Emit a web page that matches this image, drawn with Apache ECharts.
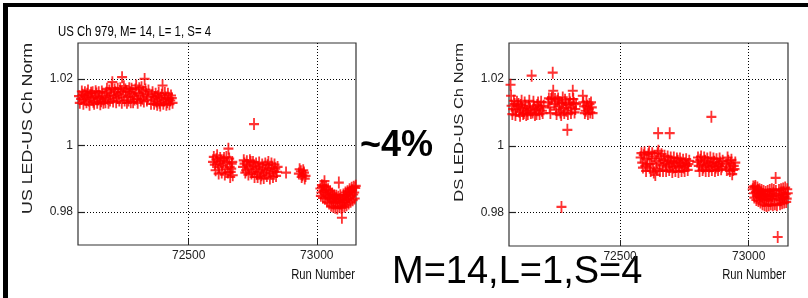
<!DOCTYPE html>
<html><head><meta charset="utf-8">
<script src="https://cdn.jsdelivr.net/npm/echarts@6/dist/echarts.min.js"></script>
<style>html,body{margin:0;padding:0;background:#fff}#c{width:808px;height:298px}</style>
</head><body><div id="c"></div>
<script>
const xTicks = [72500, 73000];
const yTicks = [0.98, 1, 1.02];
const xTitle = 'Run Number';
const usTitle = 'US LED-US Ch Norm';
const dsTitle = 'DS LED-US Ch Norm';
const plotTitle = 'US Ch 979, M= 14, L= 1, S= 4';
const noteDiff = '~4%';
const noteId = 'M=14,L=1,S=4';

const usRun = [72072,72080,72086,72092,72098,72104,72110,72116,72122,72128,72134,72140,72146,72152,72158,72164,
 72172,72178,72184,72190,72196,72202,72208,72214,72220,72226,
 72236,72240,72244,72250,72256,72262,72268,72274,72280,72286,72292,72298,72304,72310,72316,72322,72328,72334,72340,
 72356,72362,72368,72374,72380,72386,72392,72398,72404,72410,72416,72422,72428,72434,
 72595,72602,72608,72614,72620,72626,72632,72638,72644,72650,72655,72660,72664,72668,72672,
 72712,72718,72724,72730,72736,72742,72748,72754,72755,72760,72766,72772,72778,72784,72790,72796,72802,72808,72814,72820,72826,72832,72838,72844,
 72880,72930,72938,72944,72950,72956,
 73014,73018,73022,73026,73030,73034,73038,73042,73046,73050,73054,73058,73062,73066,73070,73074,73078,73082,73086,73090,73094,73098,73102,73106,73110,73114,73118,73122,73126,73130,73134,73138,73142,73146,73150,
 72075,72083,72089,72095,72101,72107,72113,72119,72125,72131,72137,72143,72149,72155,72161,72167,
 72175,72181,72187,72193,72199,72205,72211,72217,72223,72229,
 72233,72239,72247,72253,72259,72265,72271,72277,72283,72289,72295,72301,72307,72313,72319,72325,72331,72337,72343,
 72353,72359,72365,72371,72377,72383,72389,72395,72401,72407,72413,72419,72425,72431,72437,
 72598,72605,72611,72617,72623,72629,72635,72641,72647,72653,72658,72662,72666,72670,
 72715,72721,72727,72733,72739,72745,72751,72757,72763,72769,72775,72781,72787,72793,72799,72805,72811,72817,72823,72829,72835,72841,72847,
 72933,72941,72947,72953,
 73016,73020,73024,73028,73032,73036,73040,73044,73048,73052,73056,73060,73064,73068,73072,73076,73080,73084,73088,73092,73096,73100,73104,73108,73112,73116,73120,73124,73128,73132,73136,73140,73144,73148,73152];
const usVal = [1.0148,1.0140,1.0152,1.0138,1.0146,1.0155,1.0135,1.0150,1.0142,1.0131,1.0147,1.0156,1.0139,1.0144,1.0133,1.0150,
 1.0146,1.0158,1.0140,1.0165,1.0152,1.0190,1.0148,1.0160,1.0143,1.0155,
 1.0160,1.0205,1.0150,1.0135,1.0163,1.0145,1.0172,1.0130,1.0155,1.0148,1.0168,1.0140,1.0158,1.0150,1.0175,1.0162,1.0200,1.0155,1.0145,
 1.0150,1.0138,1.0145,1.0132,1.0148,1.0128,1.0142,1.0180,1.0136,1.0144,1.0130,1.0140,1.0135,1.0142,
 0.9950,0.9942,0.9958,0.9945,0.9935,0.9952,0.9940,0.9962,0.9928,0.9948,0.9990,0.9935,0.9920,0.9945,0.9910,
 0.9935,0.9945,0.9925,0.9940,0.9930,0.9950,0.9920,0.9938,1.0064,0.9928,0.9915,0.9935,0.9922,0.9910,0.9930,0.9918,0.9925,0.9940,0.9928,0.9915,0.9932,0.9922,0.9930,0.9920,
 0.9918,0.9915,0.9922,0.9910,0.9918,0.9908,
 0.9870,0.9858,0.9875,0.9862,0.9892,0.9852,0.9865,0.9845,0.9858,0.9840,0.9852,0.9835,0.9848,0.9830,0.9842,0.9828,0.9840,0.9832,0.9888,0.9838,0.9826,0.9782,0.9835,0.9845,0.9830,0.9850,0.9838,0.9855,0.9842,0.9860,0.9848,0.9865,0.9852,0.9858,0.9872,
 1.0128,1.0162,1.0125,1.0160,1.0130,1.0165,1.0122,1.0158,1.0160,1.0125,1.0163,1.0128,1.0160,1.0124,1.0162,1.0128,
 1.0130,1.0170,1.0128,1.0135,1.0172,1.0132,1.0168,1.0130,1.0170,1.0135,
 1.0172,1.0128,1.0178,1.0168,1.0128,1.0135,1.0160,1.0170,1.0130,1.0138,1.0180,1.0128,1.0172,1.0135,1.0140,1.0132,1.0168,1.0135,1.0165,
 1.0125,1.0160,1.0125,1.0155,1.0122,1.0158,1.0120,1.0152,1.0125,1.0158,1.0122,1.0155,1.0124,1.0150,1.0128,
 0.9965,0.9925,0.9970,0.9915,0.9962,0.9918,0.9955,0.9912,0.9965,0.9918,0.9960,0.9905,0.9930,0.9950,
 0.9955,0.9918,0.9952,0.9912,0.9955,0.9915,0.9950,0.9905,0.9945,0.9905,0.9948,0.9900,0.9942,0.9902,0.9945,0.9908,0.9950,0.9900,0.9945,0.9905,0.9942,0.9908,0.9935,
 0.9928,0.9905,0.9925,0.9900,
 0.9848,0.9880,0.9842,0.9878,0.9840,0.9875,0.9830,0.9868,0.9825,0.9862,0.9818,0.9855,0.9815,0.9850,0.9812,0.9848,0.9810,0.9845,0.9815,0.9850,0.9812,0.9818,0.9852,0.9815,0.9858,0.9820,0.9862,0.9825,0.9868,0.9830,0.9872,0.9835,0.9875,0.9840,0.9878];

const dsRun = [72074,72076,72078,72084,72090,72096,72102,72108,72114,72120,72126,72132,72138,72144,72150,72156,72160,72166,72172,72178,72184,72190,72196,
 72220,72226,72232,72238,72240,72244,72250,72256,72262,72268,72272,72274,72280,72286,72292,72295,72300,72306,72312,72316,72320,72326,
 72355,72360,72366,72372,72378,72384,72390,
 72580,72586,72592,72598,72604,72610,72616,72622,72628,72634,72637,72640,72646,72648,72652,72658,72664,72670,72676,72682,72688,72693,72694,72700,72706,72712,72718,72724,72730,72736,72742,72748,72754,72760,72766,
 72800,72806,72812,72818,72824,72830,72836,72842,72848,72854,72855,72860,72866,72872,72878,72884,72890,72896,
 72912,72918,72924,72930,72936,72942,72948,
 73016,73020,73024,73028,73032,73036,73040,73044,73048,73052,73056,73060,73064,73068,73072,73076,73080,73084,73088,73092,73096,73100,73105,73108,73113,73116,73120,73124,73128,73132,73136,73140,73144,73148,73152,
 72081,72087,72093,72099,72105,72111,72117,72123,72129,72135,72141,72147,72153,72163,72169,72175,72181,72187,72193,72199,72203,
 72223,72229,72235,72247,72253,72259,72265,72271,72277,72283,72289,72297,72303,72309,72318,72323,72329,
 72357,72363,72369,72375,72381,72387,72393,
 72583,72589,72595,72601,72607,72613,72619,72625,72631,72643,72649,72655,72661,72667,72673,72679,72685,72691,72697,72703,72709,72715,72721,72727,72733,72739,72745,72751,72757,72763,72769,
 72803,72809,72815,72821,72827,72833,72839,72845,72851,72857,72863,72869,72875,72881,72887,72893,72899,
 72915,72921,72927,72933,72939,72945,
 73018,73022,73026,73030,73034,73038,73042,73046,73050,73054,73058,73062,73066,73070,73074,73078,73082,73086,73090,73094,73098,73102,73106,73110,73118,73122,73126,73130,73134,73138,73142,73146,73150];
const dsVal = [1.0183,1.0150,1.0120,1.0110,1.0125,1.0108,1.0118,1.0102,1.0122,1.0112,1.0098,1.0115,1.0105,1.0120,1.0110,1.0210,1.0100,1.0116,1.0108,1.0122,1.0112,1.0118,1.0105,
 1.0130,1.0115,1.0140,1.0219,1.0165,1.0125,1.0108,1.0135,1.0118,1.0100,0.9817,1.0128,1.0112,1.0138,1.0105,1.0048,1.0122,1.0130,1.0115,1.0165,1.0128,1.0110,
 1.0150,1.0118,1.0105,1.0120,1.0110,1.0100,1.0115,
 0.9965,0.9950,0.9972,0.9940,0.9960,0.9975,0.9945,0.9962,0.9935,0.9968,0.9913,0.9955,0.9978,1.0038,0.9948,0.9962,0.9942,0.9958,0.9948,0.9938,0.9955,1.0038,0.9945,0.9952,0.9935,0.9948,0.9940,0.9955,0.9938,0.9950,0.9942,0.9935,0.9948,0.9940,0.9945,
 0.9952,0.9940,0.9958,0.9945,0.9935,0.9955,0.9942,0.9950,0.9938,0.9948,1.0087,0.9940,0.9952,0.9935,0.9945,0.9940,0.9950,0.9938,
 0.9945,0.9965,0.9935,0.9948,0.9915,0.9940,0.9950,
 0.9870,0.9858,0.9875,0.9862,0.9850,0.9868,0.9855,0.9845,0.9860,0.9848,0.9855,0.9842,0.9852,0.9840,0.9850,0.9838,0.9848,0.9855,0.9842,0.9850,0.9858,0.9845,0.9904,0.9852,0.9727,0.9840,0.9850,0.9838,0.9855,0.9845,0.9860,0.9848,0.9855,0.9842,0.9858,
 1.0095,1.0135,1.0092,1.0132,1.0125,1.0090,1.0135,1.0095,1.0130,1.0092,1.0095,1.0135,1.0098,1.0132,1.0092,1.0095,1.0130,1.0095,1.0132,1.0098,1.0120,
 1.0142,1.0098,1.0145,1.0140,1.0095,1.0142,1.0130,1.0092,1.0145,1.0098,1.0125,1.0095,1.0140,1.0098,1.0140,1.0100,1.0125,
 1.0130,1.0098,1.0132,1.0095,1.0125,1.0130,1.0098,
 0.9978,0.9935,0.9980,0.9925,0.9945,0.9982,0.9925,0.9978,0.9920,0.9930,0.9985,0.9925,0.9975,0.9925,0.9970,0.9925,0.9968,0.9928,0.9965,0.9922,0.9965,0.9925,0.9962,0.9922,0.9962,0.9925,0.9958,0.9925,0.9960,0.9928,0.9955,
 0.9965,0.9925,0.9968,0.9928,0.9965,0.9925,0.9962,0.9925,0.9965,0.9928,0.9962,0.9925,0.9960,0.9928,0.9962,0.9930,0.9955,
 0.9928,0.9955,0.9925,0.9958,0.9928,0.9930,
 0.9878,0.9845,0.9880,0.9838,0.9875,0.9835,0.9870,0.9830,0.9868,0.9825,0.9865,0.9822,0.9862,0.9820,0.9865,0.9822,0.9868,0.9825,0.9870,0.9822,0.9868,0.9825,0.9865,0.9822,0.9868,0.9825,0.9870,0.9828,0.9872,0.9830,0.9875,0.9832,0.9870];

const zip = (a, b) => a.map((v, i) => [v, b[i]]);
const sans = "'Liberation Sans',Arial,Helvetica,sans-serif";
const plus = 'path://M5,0L5,10M0,5L10,5';

function xAx(g) {
  return {
    type: 'value', gridIndex: g, min: 72068, max: 73153,
    axisLine: { show: false },
    axisTick: { show: true, inside: true, length: 6, customValues: xTicks, lineStyle: { color: '#222', width: 1 } },
    axisLabel: { customValues: xTicks, margin: 5, fontFamily: sans, fontSize: 12, color: '#222', formatter: v => String(v) },
    splitLine: { show: true, lineStyle: { color: '#000', width: 1, type: [1, 2] } }
  };
}
function yAx(g) {
  return {
    type: 'value', gridIndex: g, min: 0.9700, max: 1.0308,
    axisLine: { show: false },
    axisTick: { show: true, inside: true, length: 7, customValues: yTicks, lineStyle: { color: '#222', width: 1.2 } },
    axisLabel: { customValues: yTicks, margin: 5, fontFamily: sans, fontSize: 12, color: '#222', formatter: v => String(v) },
    splitLine: { show: true, lineStyle: { color: '#000', width: 1, type: [1, 2] } }
  };
}
function ser(i, data) {
  return {
    type: 'scatter', xAxisIndex: i, yAxisIndex: i, data: data,
    symbol: plus, symbolSize: [10, 12],
    itemStyle: { color: 'rgba(0,0,0,0)', borderColor: '#ff0000', borderWidth: 2 },
    emphasis: { disabled: true }, animation: false
  };
}

const chart = echarts.init(document.getElementById('c'), null, { renderer: 'canvas' });
chart.setOption({
  backgroundColor: '#fff',
  animation: false,
  grid: [
    { left: 78, top: 43, width: 278, height: 202, show: true, borderColor: '#333', borderWidth: 1.2 },
    { left: 509, top: 43, width: 279, height: 203, show: true, borderColor: '#333', borderWidth: 1.2 }
  ],
  xAxis: [xAx(0), xAx(1)],
  yAxis: [yAx(0), yAx(1)],
  series: [ser(0, zip(usRun, usVal)), ser(1, zip(dsRun, dsVal))],
  graphic: [
    { type: 'rect', shape: { x: 3, y: 3, width: 805, height: 4 }, style: { fill: '#000' } },
    { type: 'rect', shape: { x: 3, y: 3, width: 5, height: 295 }, style: { fill: '#000' } },
    { type: 'text', x: 58, y: 39, scaleX: 0.76, style: { text: plotTitle, font: '15px ' + sans, fill: '#000', textAlign: 'left', textVerticalAlign: 'bottom' } },
    { type: 'text', x: 28, y: 43, rotation: Math.PI / 2, scaleX: 1.27, style: { text: usTitle, font: '14px ' + sans, fill: '#222', textAlign: 'right', textVerticalAlign: 'middle' } },
    { type: 'text', x: 459, y: 43, rotation: Math.PI / 2, scaleX: 1.27, style: { text: dsTitle, font: '13px ' + sans, fill: '#222', textAlign: 'right', textVerticalAlign: 'middle' } },
    { type: 'text', x: 355, y: 275, scaleX: 0.75, style: { text: xTitle, font: '15px ' + sans, fill: '#111', textAlign: 'right', textVerticalAlign: 'middle' } },
    { type: 'text', x: 786, y: 275, scaleX: 0.75, style: { text: xTitle, font: '15px ' + sans, fill: '#111', textAlign: 'right', textVerticalAlign: 'middle' } },
    { type: 'text', x: 360, y: 146, style: { text: noteDiff, font: 'bold 36px ' + sans, fill: '#000', textAlign: 'left', textVerticalAlign: 'middle' } },
    { type: 'text', x: 392, y: 273, style: { text: noteId, font: '38px ' + sans, fill: '#000', textAlign: 'left', textVerticalAlign: 'middle' } }
  ]
});
</script>
</body></html>
